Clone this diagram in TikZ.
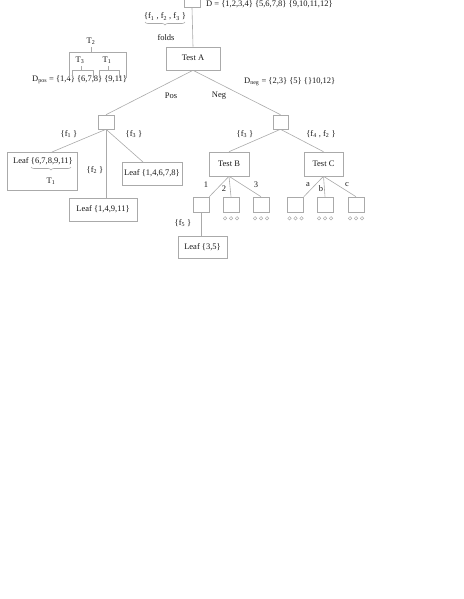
\documentclass[tikz,border=0pt]{standalone}
\usepackage{fontspec}
\setmainfont{Liberation Serif}
\usetikzlibrary{decorations.pathreplacing}
\definecolor{lc}{RGB}{170,170,170}
\definecolor{tc}{RGB}{25,25,25}
\newcommand\lsub[1]{\textsubscript{#1}}
\begin{document}
\begin{tikzpicture}[x=1pt,y=-1pt,
  ln/.style={draw=lc, line width=0.6pt},
  bx/.style={draw=lc, line width=0.6pt, rectangle, inner sep=0pt},
  lbl/.style={inner sep=0pt, text=tc, font=\fontsize{8.5}{10}\selectfont},
  brc/.style={draw=lc, line width=0.6pt, decorate, decoration={brace, amplitude=3pt, mirror}},
  dot/.style={draw=lc, line width=0.5pt, circle, inner sep=0pt, minimum size=3.4pt}]
\useasboundingbox (0,0) rectangle (463,599);
% boxes
\node[bx, minimum width=16pt, minimum height=15pt] (top) at (192,0) {};
\node[bx, minimum width=54pt, minimum height=23pt] (testA) at (193,58.5) {};
\node[lbl] (testAt) at (193,58) {Test A};
\node[bx, minimum width=16pt, minimum height=14pt] (sL) at (106,122) {};
\node[bx, minimum width=15pt, minimum height=14pt] (sR) at (280.5,122) {};
\node[bx, minimum width=70pt, minimum height=38pt] (leafA) at (42,171) {};
\node[lbl] (leafAt) at (43,161) {Leaf \{6,7,8,9,11\}};
\node[bx, minimum width=68pt, minimum height=23pt] (leafB) at (103,209.5) {};
\node[lbl] (leafBt) at (103,209.5) {Leaf \{1,4,9,11\}};
\node[bx, minimum width=60pt, minimum height=23pt] (leafC) at (152,173.5) {};
\node[lbl] (leafCt) at (152,173.5) {Leaf \{1,4,6,7,8\}};
\node[bx, minimum width=40pt, minimum height=24pt] (testB) at (229,164) {};
\node[lbl] (testBt) at (229,164) {Test B};
\node[bx, minimum width=39pt, minimum height=24pt] (testC) at (323.5,164) {};
\node[lbl] (testCt) at (323.5,164) {Test C};
\foreach \n/\x in {b1/201,b2/231,b3/261,c1/295.5,c2/325,c3/356}
  \node[bx, minimum width=16pt, minimum height=15pt] (\n) at (\x,204.5) {};
\node[bx, minimum width=49pt, minimum height=22pt] (leafD) at (202.5,247) {};
\node[lbl] (leafDt) at (202.5,247) {Leaf \{3,5\}};
% dots
\foreach \n in {b2,b3,c1,c2,c3}{
  \node[dot] (\n d1) at ([xshift=-6pt]\n.south) [yshift=-6pt] {};
  \node[dot] (\n d2) at (\n.south) [yshift=-6pt] {};
  \node[dot] (\n d3) at ([xshift=6pt]\n.south) [yshift=-6pt] {};
}
% connectors
\draw[ln] (top.south) -- (testA.north);
\draw[ln] (testA.south) -- (sL.north);
\draw[ln] (testA.south) -- (sR.north);
\coordinate (lA) at (52,152);
\coordinate (lC) at (143,162);
\draw[ln] (sL.south) -- (lA);
\draw[ln] (sL.south) -- (sL.south |- leafB.north);
\draw[ln] (sL.south) -- (lC);
\draw[ln] (sR.south) -- (testB.north);
\draw[ln] (sR.south) -- (testC.north);
\draw[ln] (testB.south) -- (b1.north east);
\draw[ln] (testB.south) -- (b2.north);
\draw[ln] (testB.south) -- (b3.north);
\draw[ln] (testC.south) -- (c1.north east);
\draw[ln] (testC.south) -- (c2.north);
\draw[ln] (testC.south) -- (c3.north);
\draw[ln] (b1.south) -- (b1.south |- leafD.north);
% labels
\node[lbl, anchor=west] (D) at (206,4.5) {D = \{1,2,3,4\} \{5,6,7,8\} \{9,10,11,12\}};
\node[lbl] (fs) at (165,16.5) {\{f\lsub{1} , f\lsub{2} , f\lsub{3} \}};
\draw[brc] (145,22) -- (185,22);
\node[lbl] (folds) at (166,38) {folds};
\node[lbl] (pos) at (171,96) {Pos};
\node[lbl] (neg) at (219,96) {Neg};
\node[lbl, anchor=west] (Dneg) at (244,82) {D\lsub{neg} = \{2,3\} \{5\} \{\}10,12\}};
\node[lbl, anchor=west] (Dpos) at (32,80) {D\lsub{pos} = \{1,4\} \{6,7,8\} \{9,11\}};
\node[lbl] (T2) at (91,41) {T\lsub{2}};
\node[lbl] (T3) at (80,60) {T\lsub{3}};
\node[lbl] (T1a) at (107,60) {T\lsub{1}};
\draw[ln] (69,78) -- (69,52) -- (126,52) -- (126,78);
\draw[ln] (91,52) -- (91,47);
\draw[ln] (72,78) -- (72,70) -- (93,70) -- (93,78);
\draw[ln] (81,70) -- (81,66);
\draw[ln] (99,78) -- (99,70) -- (119,70) -- (119,78);
\draw[ln] (108,70) -- (108,66);
\node[lbl] (f1) at (69,134) {\{f\lsub{1} \}};
\node[lbl] (f3) at (134,134) {\{f\lsub{3} \}};
\node[lbl] (f2) at (95,170) {\{f\lsub{2} \}};
\draw[brc] (31,167) -- (71,167);
\node[lbl] (T1b) at (51,181) {T\lsub{1}};
\node[lbl] (f3r) at (245,134) {\{f\lsub{3} \}};
\node[lbl] (f42) at (321,134) {\{f\lsub{4} , f\lsub{2} \}};
\node[lbl] (l1) at (206,185) {1};
\node[lbl] (l2) at (224,189) {2};
\node[lbl] (l3) at (256,185) {3};
\node[lbl] (la) at (308,185) {a};
\node[lbl] (lb) at (321,189) {b};
\node[lbl] (lc) at (347,185) {c};
\node[lbl] (f5) at (183,223) {\{f\lsub{5} \}};
\end{tikzpicture}
\end{document}
